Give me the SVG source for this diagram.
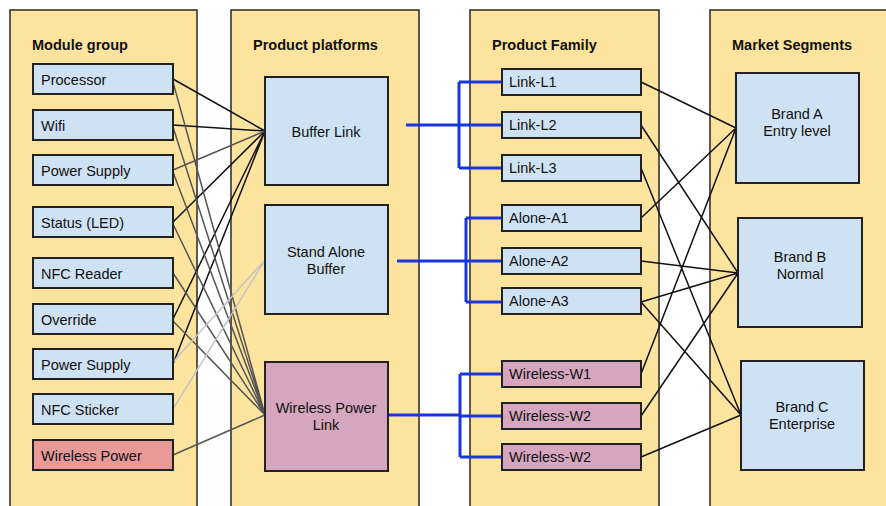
<svg xmlns="http://www.w3.org/2000/svg" width="886" height="506" viewBox="0 0 886 506">
<style>
.panel{fill:#fde49e;stroke:#333;stroke-width:1.6}
.box{fill:#cfe2f3;stroke:#222;stroke-width:2}
.pink{fill:#d5a6bd;stroke:#222;stroke-width:2}
.red{fill:#ea9999;stroke:#222;stroke-width:2}
text{font-family:"Liberation Sans",Arial,sans-serif;font-size:14.5px;fill:#111}
.title{font-weight:bold}
.c{text-anchor:middle}
.blk{stroke:#111;stroke-width:1.5;fill:none}
.gry{stroke:#555;stroke-width:1.5;fill:none}
.lgt{stroke:#c4c4c4;stroke-width:1.5;fill:none}
.blue{stroke:#1a35e0;stroke-width:3;fill:none}
</style>
<rect width="886" height="506" fill="#fff"/>
<g id="panels">
<rect class="panel" x="10" y="10" width="187" height="520"/>
<rect class="panel" x="231" y="10" width="188" height="520"/>
<rect class="panel" x="470" y="10" width="189" height="520"/>
<rect class="panel" x="710" y="10" width="200" height="520"/>
<text class="title" x="32" y="50">Module group</text>
<text class="title" x="253" y="50">Product platforms</text>
<text class="title" x="492" y="50">Product Family</text>
<text class="title" x="732" y="50">Market Segments</text>
</g>
<g id="connectors">
<path class="blk" d="M173,79 L265,131 M173,125 L265,131 M173,222 L265,131 M173,319 L265,131 M173,364 L265,131"/>
<path class="gry" d="M173,170 L265,131"/>
<path class="gry" d="M173,82 L265,415 M173,127 L265,415 M173,172 L265,415 M173,224 L265,415 M173,273 L265,415 M173,321 L265,415 M173,455 L265,415"/>
<path class="lgt" d="M173,362 L265,260 M173,409 L265,260"/>
<path class="blue" d="M406,125 H459 M459,82 V168 M459,82 H502 M459,125 H502 M459,168 H502"/>
<path class="blue" d="M397,261 H466 M466,218 V302 M466,218 H502 M466,261 H502 M466,302 H502"/>
<path class="blue" d="M388,415 H460 M460,374 V457 M460,374 H502 M460,416 H502 M460,457 H502"/>
<path class="blk" d="M641,82 L736,128 M641,218 L736,128 M641,374 L736,128 M641,125 L738,273 M641,261 L738,273 M641,302 L738,273 M641,416 L738,273 M641,168 L741,415 M641,302 L741,415 M641,457 L741,415"/>
</g>
<g id="m-processor"><rect class="box" x="33" y="64" width="140" height="30"/><text x="41" y="85">Processor</text></g>
<g id="m-wifi"><rect class="box" x="33" y="110" width="140" height="30"/><text x="41" y="131">Wifi</text></g>
<g id="m-power1"><rect class="box" x="33" y="155" width="140" height="30"/><text x="41" y="176">Power Supply</text></g>
<g id="m-status"><rect class="box" x="33" y="207" width="140" height="30"/><text x="41" y="228">Status (LED)</text></g>
<g id="m-nfcreader"><rect class="box" x="33" y="258" width="140" height="30"/><text x="41" y="279">NFC Reader</text></g>
<g id="m-override"><rect class="box" x="33" y="304" width="140" height="30"/><text x="41" y="325">Override</text></g>
<g id="m-power2"><rect class="box" x="33" y="349" width="140" height="30"/><text x="41" y="370">Power Supply</text></g>
<g id="m-nfcsticker"><rect class="box" x="33" y="394" width="140" height="30"/><text x="41" y="415">NFC Sticker</text></g>
<g id="m-wireless"><rect class="red" x="33" y="440" width="140" height="30"/><text x="41" y="461">Wireless Power</text></g>
<g id="p-bufferlink"><rect class="box" x="265" y="77" width="123" height="108"/><text class="c" x="326" y="137">Buffer Link</text></g>
<g id="p-standalone"><rect class="box" x="265" y="205" width="123" height="109"/><text class="c" x="326" y="257">Stand Alone</text><text class="c" x="326" y="274">Buffer</text></g>
<g id="p-wpl"><rect class="pink" x="265" y="362" width="123" height="109"/><text class="c" x="326" y="413">Wireless Power</text><text class="c" x="326" y="430">Link</text></g>
<g id="f-l1"><rect class="box" x="502" y="69" width="139" height="26"/><text x="509" y="87">Link-L1</text></g>
<g id="f-l2"><rect class="box" x="502" y="112" width="139" height="26"/><text x="509" y="130">Link-L2</text></g>
<g id="f-l3"><rect class="box" x="502" y="155" width="139" height="26"/><text x="509" y="173">Link-L3</text></g>
<g id="f-a1"><rect class="box" x="502" y="205" width="139" height="26"/><text x="509" y="223">Alone-A1</text></g>
<g id="f-a2"><rect class="box" x="502" y="248" width="139" height="26"/><text x="509" y="266">Alone-A2</text></g>
<g id="f-a3"><rect class="box" x="502" y="288" width="139" height="26"/><text x="509" y="306">Alone-A3</text></g>
<g id="f-w1"><rect class="pink" x="502" y="361" width="139" height="26"/><text x="509" y="379">Wireless-W1</text></g>
<g id="f-w2"><rect class="pink" x="502" y="403" width="139" height="26"/><text x="509" y="421">Wireless-W2</text></g>
<g id="f-w3"><rect class="pink" x="502" y="444" width="139" height="26"/><text x="509" y="462">Wireless-W2</text></g>
<g id="s-brandA"><rect class="box" x="736" y="73" width="123" height="110"/><text class="c" x="797" y="119">Brand A</text><text class="c" x="797" y="136">Entry level</text></g>
<g id="s-brandB"><rect class="box" x="738" y="218" width="124" height="109"/><text class="c" x="800" y="262">Brand B</text><text class="c" x="800" y="279">Normal</text></g>
<g id="s-brandC"><rect class="box" x="741" y="361" width="123" height="109"/><text class="c" x="802" y="412">Brand C</text><text class="c" x="802" y="429">Enterprise</text></g>
</svg>
